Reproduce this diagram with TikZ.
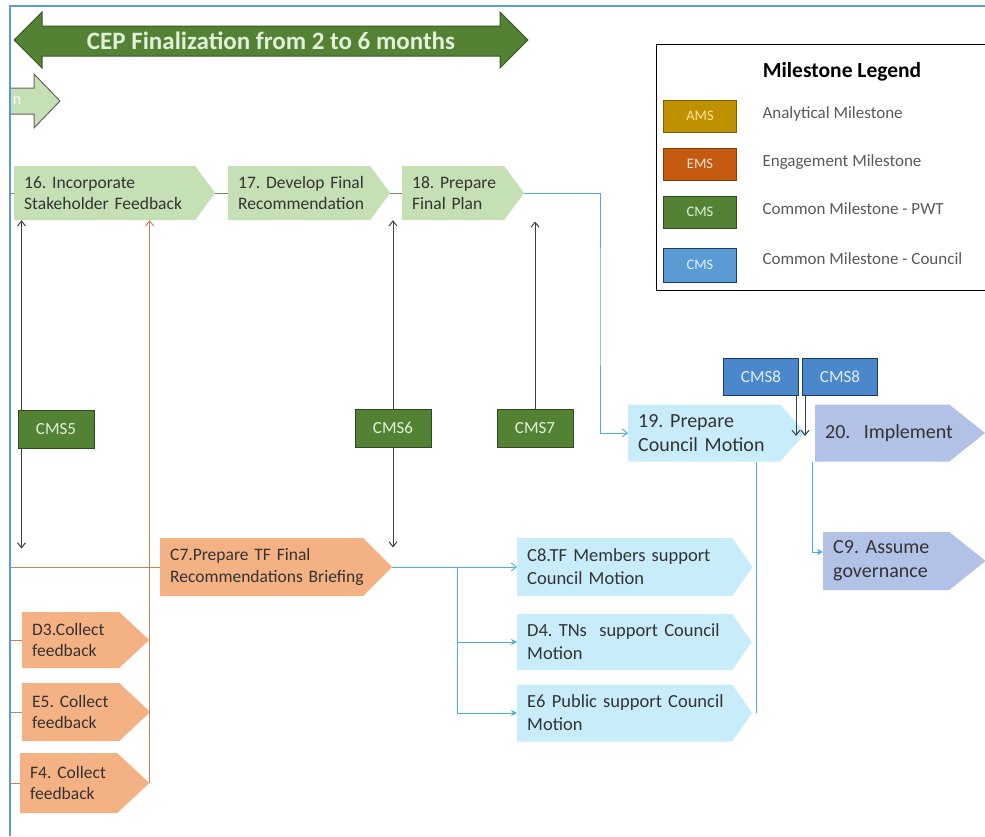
\documentclass[tikz,border=0pt]{standalone}
\usepackage{fontspec}
\setmainfont{Carlito}
\usepackage{xcolor}
\usepackage{tikz}
\usetikzlibrary{arrows.meta, positioning, shapes.symbols}
\frenchspacing
\hyphenpenalty=10000
\exhyphenpenalty=10000

\definecolor{framebl}{HTML}{5B9BD5}
\definecolor{bandgreen}{HTML}{548235}
\definecolor{banddark}{HTML}{385723}
\definecolor{pwtfill}{HTML}{C5E0B4}
\definecolor{engfill}{HTML}{F4B183}
\definecolor{cncfill}{HTML}{C9ECFA}
\definecolor{impfill}{HTML}{B1C2E6}
\definecolor{cmsdark}{HTML}{2F4A1D}
\definecolor{cmstext}{HTML}{E2F0D9}
\definecolor{cncblue}{HTML}{4A88CB}
\definecolor{cncdark}{HTML}{1F3A5F}
\definecolor{amsgold}{HTML}{BF9000}
\definecolor{amsdark}{HTML}{7F6000}
\definecolor{amstext}{HTML}{FFE699}
\definecolor{emsrust}{HTML}{C55A11}
\definecolor{emsdark}{HTML}{843C0C}
\definecolor{emstext}{HTML}{FBE5D6}
\definecolor{legblue}{HTML}{5B9BD5}
\definecolor{lnkblue}{HTML}{49B0D6}
\definecolor{engline}{HTML}{C4835A}
\definecolor{txtgray}{HTML}{333333}

\begin{document}
\begin{tikzpicture}[
    x=1pt, y=-1pt,
    every node/.style={font=\fontsize{17.5}{21.5}\selectfont, text=txtgray},
    chev/.style={signal, signal to=east, signal from=nowhere, anchor=west,
      align=left, inner xsep=10pt, inner ysep=0pt},
    mid/.style={font=\fontsize{18.5}{23}\selectfont},
    big/.style={font=\fontsize{20}{24}\selectfont},
    msbox/.style={draw, line width=1pt, minimum width=76pt, minimum height=38pt,
      inner sep=0pt, font=\fontsize{17}{19}\selectfont},
    pwtms/.style={msbox, fill=bandgreen, draw=cmsdark, text=cmstext},
    cncms/.style={msbox, fill=cncblue, draw=cncdark, text=white!85!cncblue},
    legbox/.style={draw, line width=1pt, minimum width=73pt, minimum height=32pt,
      inner sep=0pt, font=\fontsize{14.5}{16}\selectfont},
    legtxt/.style={anchor=west, text=black!65, font=\fontsize{17}{20}\selectfont},
    link/.style={draw=lnkblue, line width=0.9pt},
    engln/.style={draw=engline, line width=0.9pt},
    blk/.style={draw=black!75, line width=1pt, -{Straight Barb[length=5pt,width=8pt]}}
  ]
  \useasboundingbox (0,0) rectangle (985,836);

  % frame
  \draw[framebl, line width=1.2pt] (10,836) -- (10,6) -- (985,6);

  % banner
  \filldraw[fill=bandgreen, draw=banddark, line width=1pt]
    (14,40) -- (42,12) -- (42,26) -- (500,26) -- (500,12) -- (528,40)
    -- (500,68) -- (500,56) -- (42,56) -- (42,68) -- cycle;
  \node[text=cmstext, font=\bfseries\fontsize{25}{28}\selectfont] (band) at (271,41)
    {CEP Finalization from 2 to 6 months};
  \begin{scope}
    \clip (11,70) rectangle (70,132);
    \filldraw[fill=pwtfill, draw=black!60, line width=1pt]
      (0,88) -- (34,88) -- (34,74) -- (60,101) -- (34,128) -- (34,114) -- (0,114) -- cycle;
    \node[text=white, font=\fontsize{16}{18}\selectfont] (cut) at (17,101) {n};
  \end{scope}

  % legend
  \node[draw, line width=1pt, minimum width=350pt, minimum height=246pt,
    anchor=north west] (legend) at (656,44) {};
  \node[font=\bfseries\fontsize{21.5}{24}\selectfont, text=black] (legtitle) at (842,72)
    {Milestone Legend};
  \node[legbox, fill=amsgold, draw=amsdark, text=amstext] (lams) at (700,116) {AMS};
  \node[legbox, fill=emsrust, draw=emsdark, text=emstext] (lems) at (700,164) {EMS};
  \node[legbox, fill=bandgreen, draw=cmsdark, text=cmstext] (lpwt) at (700,212) {CMS};
  \node[legbox, fill=legblue, draw=cncdark, text=white!85!legblue,
    minimum height=34pt] (lcnc) at (700,265) {CMS};
  \node[legtxt, right=22pt of lams, yshift=2pt] {Analytical Milestone};
  \node[legtxt, right=22pt of lems, yshift=2pt] {Engagement Milestone};
  \node[legtxt, right=22pt of lpwt, yshift=3pt] {Common Milestone - PWT};
  \node[legtxt, right=22pt of lcnc, yshift=6pt] {Common Milestone - Council};

  % top row
  \node[chev, fill=pwtfill, text width=161pt, minimum height=54pt,
    signal pointer angle=107] (s16) at (14,193) {16. Incorporate\\Stakeholder~Feedback};
  \node[chev, fill=pwtfill, text width=122pt, minimum height=54pt,
    signal pointer angle=107] (s17) at (228,193) {17.~Develop~Final\\Recommendation};
  \node[chev, fill=pwtfill, text width=82pt, minimum height=54pt,
    signal pointer angle=107] (s18) at (402,193) {18.~Prepare\\Final~Plan};

  % council row
  \node[chev, big, fill=cncfill, text width=132pt, minimum height=57pt,
    signal pointer angle=97] (s19) at (628,433) {19.~Prepare\\Council~Motion};
  \node[chev, big, fill=impfill, text width=114pt, minimum height=57pt,
    signal pointer angle=77] (s20) at (815,433) {20.~~Implement};
  \node[chev, big, fill=impfill, text width=106pt, minimum height=58pt,
    signal pointer angle=77] (c9) at (823,561) {C9.~Assume\\governance};

  % engagement
  \node[chev, fill=engfill, text width=183pt, minimum height=58pt,
    signal pointer angle=90] (c7) at (160,567) {C7.Prepare TF Final\\Recommendations~Briefing};
  \node[chev, fill=engfill, text width=77pt, minimum height=56pt,
    signal pointer angle=86] (d3) at (22,640) {D3.Collect\\feedback};
  \node[chev, fill=engfill, text width=77pt, minimum height=58pt,
    signal pointer angle=86] (e5) at (22,712) {E5.~Collect\\feedback};
  \node[chev, fill=engfill, text width=77pt, minimum height=60pt,
    signal pointer angle=86] (f4) at (20,783) {F4.~Collect\\feedback};

  % support
  \node[chev, mid, fill=cncfill, text width=195pt, minimum height=58pt,
    signal pointer angle=110] (c8) at (517,567) {C8.TF~Members~support\\Council Motion};
  \node[chev, mid, fill=cncfill, text width=195pt, minimum height=56pt,
    signal pointer angle=110] (d4) at (517,642) {D4.~TNs~~support~Council\\Motion};
  \node[chev, mid, fill=cncfill, text width=195pt, minimum height=57pt,
    signal pointer angle=110] (e6) at (517,713) {E6~Public~support~Council\\Motion};

  % milestones
  \node[pwtms] (cms5) at (56,429) {CMS5};
  \node[pwtms] (cms6) at (393,428) {CMS6};
  \node[pwtms] (cms7) at (535,428) {CMS7};
  \node[cncms, minimum width=75pt, minimum height=37pt] (cms8a) at (761,377) {CMS8};
  \node[cncms, minimum width=75pt, minimum height=37pt] (cms8b) at (840,377) {CMS8};

  % connectors
  \draw[black!50, line width=0.8pt] (s16.west) -- ++(-4,0);
  \draw[black!50, line width=0.8pt] (s16.east) -- (s17.west);
  \draw[black!50, line width=0.8pt] (s17.east) -- (s18.west);
  \coordinate (bend) at (600,300);
  \draw[link, -{Straight Barb[length=5pt,width=8pt]}] (s18.east) -| (bend) |- (s19.west);

  \draw[blk] ([xshift=4pt]cms5.north west) -- ([xshift=4pt]cms5.north west |- s16.south);
  \draw[blk] ([xshift=4pt]cms5.south west) -- ++(0,100);
  \draw[blk] (cms6.north) -- (cms6.north |- s17.south);
  \draw[blk] (cms6.south) -- ++(0,100);
  \draw[blk] (cms7.north) -- ++(0,-187);
  \draw[blk] ([xshift=-3pt]cms8a.south east) -- ++(0,40);
  \draw[blk] ([xshift=3pt]cms8b.south west) -- ++(0,40);

  \draw[engln, -{Straight Barb[length=5pt,width=8pt]}] (f4.east) -- (f4.east |- s16.south);
  \draw[engln] (c7.west) -- ++(-150,0);
  \draw[engln] (d3.west) -- ++(-12,0);
  \draw[engln] (e5.west) -- ++(-12,0);
  \draw[engln] (f4.west) -- ++(-10,0);

  \coordinate (split) at (457,567);
  \draw[link, -{Straight Barb[length=5pt,width=8pt]}] (c7.east) -- (c8.west);
  \draw[link, -{Stealth[length=6pt,width=6pt]}] (split) |- (d4.west);
  \draw[link, -{Stealth[length=6pt,width=6pt]}] (split) |- (e6.west);
  \draw[link] ([xshift=52pt]s19.south) -- ([xshift=52pt]s19.south |- e6.east);
  \draw[link, -{Stealth[length=6pt,width=6pt]}] ([xshift=-3pt]s20.south west)
    |- ([yshift=9pt]c9.west);
\end{tikzpicture}
\end{document}
